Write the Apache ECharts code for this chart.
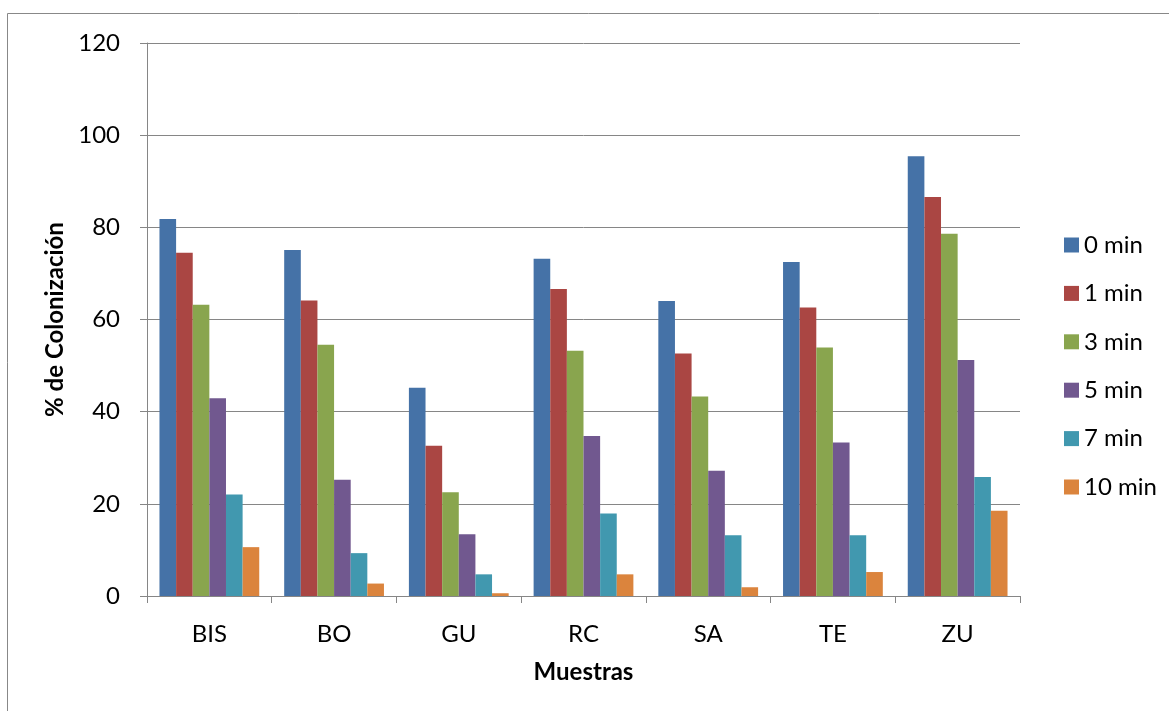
<!DOCTYPE html>
<html>
<head>
<meta charset="utf-8">
<script src="https://cdn.jsdelivr.net/npm/echarts@6/dist/echarts.min.js"></script>
<style>
  html, body { margin: 0; padding: 0; background: #fff; }
  #chart { width: 1169px; height: 711px; }
</style>
</head>
<body>
<div id="chart"></div>
<script>
// Sample sites and colonization (%) after each exposure time
const categories = ['BIS', 'BO', 'GU', 'RC', 'SA', 'TE', 'ZU'];
const seriesNames = ['0 min', '1 min', '3 min', '5 min', '7 min', '10 min'];
const min0  = [81.8, 75.1, 45.2, 73.2, 64.0, 72.5, 95.4];
const min1  = [74.5, 64.1, 32.6, 66.6, 52.6, 62.6, 86.6];
const min3  = [63.2, 54.5, 22.5, 53.2, 43.3, 53.9, 78.6];
const min5  = [42.9, 25.2, 13.4, 34.7, 27.2, 33.3, 51.2];
const min7  = [22.0,  9.3,  4.7, 17.9, 13.2, 13.2, 25.8];
const min10 = [10.6,  2.7,  0.6,  4.7,  1.9,  5.2, 18.5];
const seriesValues = [min0, min1, min3, min5, min7, min10];
const colors = ['#4572A7', '#AA4643', '#89A54E', '#71588F', '#4198AF', '#DB843D'];

const font = 'Lato, "Open Sans", sans-serif';
const axisGray = '#868686';
const fs = 24;

const chart = echarts.init(document.getElementById('chart'));
chart.setOption({
  animation: false,
  textStyle: { fontFamily: font, color: '#000' },
  color: colors,
  graphic: [{
    type: 'rect',
    shape: { x: 7.5, y: 13.5, width: 1300, height: 900 },
    style: { fill: 'none', stroke: '#888', lineWidth: 1 },
    silent: true
  }],
  grid: { left: 147, right: 149, top: 43, bottom: 115 },
  legend: {
    orient: 'vertical',
    left: 1064,
    top: 233,
    itemWidth: 15,
    itemHeight: 15,
    itemGap: 24.4,
    padding: 0,
    icon: 'rect',
    textStyle: { fontSize: fs, fontFamily: font, color: '#000', lineHeight: 24 },
    data: seriesNames
  },
  xAxis: {
    type: 'category',
    data: categories,
    name: 'Muestras',
    nameLocation: 'middle',
    nameGap: 64,
    nameTextStyle: { fontSize: fs, fontWeight: 'bold', fontFamily: font, color: '#000' },
    axisLine: { lineStyle: { color: axisGray, width: 1 } },
    axisTick: { show: true, length: 7, alignWithLabel: false, lineStyle: { color: axisGray } },
    axisLabel: { fontSize: fs, margin: 26, color: '#000', fontFamily: font }
  },
  yAxis: {
    type: 'value',
    min: 0,
    max: 120,
    interval: 20,
    name: '% de Colonización',
    nameLocation: 'middle',
    nameGap: 67,
    nameRotate: 90,
    nameTextStyle: { fontSize: fs, fontWeight: 'bold', fontFamily: font, color: '#000' },
    axisLine: { show: true, lineStyle: { color: axisGray, width: 1 } },
    axisTick: { show: true, length: 7, lineStyle: { color: axisGray } },
    axisLabel: { fontSize: fs, margin: 27, color: '#000', fontFamily: font },
    splitLine: { show: true, lineStyle: { color: axisGray, width: 1 } }
  },
  series: seriesNames.map((name, i) => ({
    name: name,
    type: 'bar',
    data: seriesValues[i],
    barGap: '0%',
    barCategoryGap: '20%',
    itemStyle: { color: colors[i] }
  }))
});
</script>
</body>
</html>
